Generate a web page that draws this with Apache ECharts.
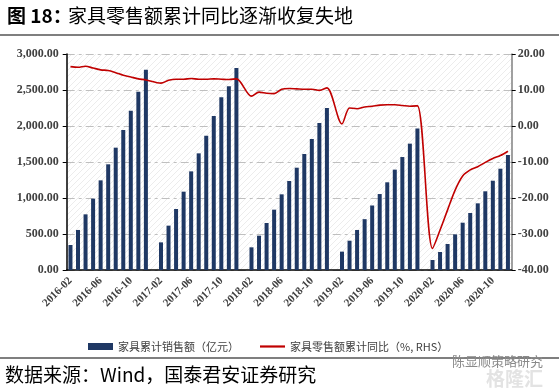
<!DOCTYPE html>
<html>
<head>
<meta charset="utf-8">
<script src="https://cdn.jsdelivr.net/npm/echarts@6/dist/echarts.min.js"></script>
<style>
html,body{margin:0;padding:0;background:#fff;}
#c{width:559px;height:390px;}
</style>
</head>
<body>
<div id="c"></div>
<script>
// ---- data ----
const months = [];
(function(){
  for (let y = 2016; y <= 2020; y++) {
    for (let m = 1; m <= 12; m++) {
      if (y === 2016 && m === 1) continue;
      months.push(y + '-' + (m < 10 ? '0' + m : '' + m));
    }
  }
})();

const salesCum = [
  347, 556, 773, 991, 1245, 1468, 1699, 1944, 2213, 2477, 2782,
  null, 384, 616, 847, 1088, 1370, 1620, 1866, 2139, 2398, 2551, 2806,
  null, 315, 477, 653, 838, 1051, 1236, 1421, 1611, 1819, 2042, 2250,
  null, 255, 407, 556, 706, 896, 1055, 1218, 1394, 1569, 1755, 1967,
  null, 139, 250, 361, 495, 657, 792, 926, 1093, 1240, 1407, 1597
];

const yoyCum = [
  16.5, 16.3, 16.6, 16.1, 15.6, 15.4, 14.8, 14.1, 13.6, 13.1, 12.8,
  null, 11.9, 12.7, 13.0, 13.0, 13.2, 13.0, 13.0, 13.1, 13.0, 12.9, 13.1,
  null, 8.3, 9.4, 9.1, 9.0, 10.2, 10.4, 10.3, 10.2, 10.2, 9.9, 10.6,
  null, 0.6, 5.0, 4.8, 5.3, 5.5, 5.8, 5.9, 5.9, 5.7, 5.5, 5.6,
  null, -34.0, -28.9, -23.3, -17.8, -13.9, -12.2, -11.3, -10.1, -9.0, -8.2, -7.0
];

const seriesNames = ['家具累计销售额（亿元）', '家具零售额累计同比（%, RHS）'];
const titleLabel = '图 18：';
const titleText = '家具零售额累计同比逐渐收复失地';
const sourceText = '数据来源：Wind，国泰君安证券研究';

// hatch pattern for plot background
const pat = document.createElement('canvas');
pat.width = 6; pat.height = 6;
(function(){
  const g = pat.getContext('2d');
  g.fillStyle = '#ffffff';
  g.fillRect(0,0,6,6);
  g.strokeStyle = '#ececec';
  g.lineWidth = 1;
  g.beginPath();
  g.moveTo(-1,7); g.lineTo(7,-1);
  g.moveTo(-4,4); g.lineTo(4,-4);
  g.moveTo(2,10); g.lineTo(10,2);
  g.stroke();
})();

function fmtThousands(v) {
  const s = v.toFixed(2);
  const parts = s.split('.');
  parts[0] = parts[0].replace(/\B(?=(\d{3})+(?!\d))/g, ',');
  return parts.join('.');
}

const serif = '"Liberation Serif", "Times New Roman", serif';
const cjk = '"Noto Sans CJK SC", sans-serif';

const chart = echarts.init(document.getElementById('c'), null, {renderer: 'canvas'});
chart.setOption({
  animation: false,
  backgroundColor: '#ffffff',
  grid: {
    left: 66.7, right: 47.3, top: 54, bottom: 120,
    show: true,
    backgroundColor: {image: pat, repeat: 'repeat'},
    borderWidth: 0
  },
  legend: {
    left: 83, top: 336,
    itemWidth: 25, itemHeight: 7, itemGap: 21,
    textStyle: {fontFamily: cjk, fontSize: 11, color: '#404040'},
    data: [
      {name: seriesNames[0], icon: 'rect'},
      {name: seriesNames[1], icon: 'path://M0,0h25v2.2h-25z', itemStyle: {color: '#c00000'}}
    ]
  },
  xAxis: {
    type: 'category',
    data: months,
    boundaryGap: true,
    axisLine: {show: true, onZero: false, lineStyle: {color: '#000', width: 1.5}},
    axisTick: {show: false},
    axisLabel: {
      interval: 3, rotate: 45, margin: 9,
      fontFamily: serif, fontWeight: 'bold', fontSize: 11, color: '#404040'
    },
    splitLine: {show: false}
  },
  yAxis: [
    {
      type: 'value', min: 0, max: 3000, interval: 500, position: 'left',
      axisLine: {show: true, lineStyle: {color: '#000', width: 1.5}},
      axisTick: {show: true, length: 4, lineStyle: {color: '#000'}},
      axisLabel: {
        margin: 8, formatter: fmtThousands,
        fontFamily: serif, fontWeight: 'bold', fontSize: 12, color: '#404040'
      },
      splitLine: {show: true, lineStyle: {color: '#bfbfbf', width: 1, type: [8, 4, 3, 4]}}
    },
    {
      type: 'value', min: -40, max: 20, interval: 10, position: 'right',
      axisLine: {show: true, lineStyle: {color: '#808080', width: 1.5}},
      axisTick: {show: true, length: 4, lineStyle: {color: '#000'}},
      axisLabel: {
        margin: 6, formatter: function(v){ return v.toFixed(2); },
        fontFamily: serif, fontWeight: 'bold', fontSize: 12, color: '#404040'
      },
      splitLine: {show: false}
    }
  ],
  series: [
    {
      name: seriesNames[0], type: 'bar', yAxisIndex: 0,
      data: salesCum, barWidth: 4,
      itemStyle: {color: '#1f3864'}
    },
    {
      name: seriesNames[1], type: 'line', yAxisIndex: 1,
      data: yoyCum, connectNulls: true, smooth: 0.3,
      symbol: 'none', lineStyle: {color: '#c00000', width: 1.6},
      itemStyle: {color: '#c00000'}
    }
  ],
  graphic: [
    {type: 'text', left: 7, top: 6, style: {text: titleLabel, font: 'bold 19px ' + cjk, fill: '#000'}},
    {type: 'text', left: 68, top: 6, style: {text: titleText, font: '19px ' + cjk, fill: '#000'}},
    {type: 'line', shape: {x1: 0, y1: 35, x2: 559, y2: 35}, style: {stroke: '#000', lineWidth: 1.2}},
    {type: 'line', shape: {x1: 0, y1: 358, x2: 559, y2: 358}, style: {stroke: '#000', lineWidth: 1.2}},
    {type: 'text', left: 5, top: 365, style: {text: sourceText, font: '19px ' + cjk, fill: '#000'}},
    {type: 'text', left: 452, top: 355, style: {text: '陈显顺策略研究', font: '13px ' + cjk, fill: '#8a8a8a'}},
    {type: 'text', left: 486, top: 369, style: {text: '格隆汇', font: 'bold 19px ' + cjk, fill: '#e3e3e3'}}
  ]
});
</script>
</body>
</html>
